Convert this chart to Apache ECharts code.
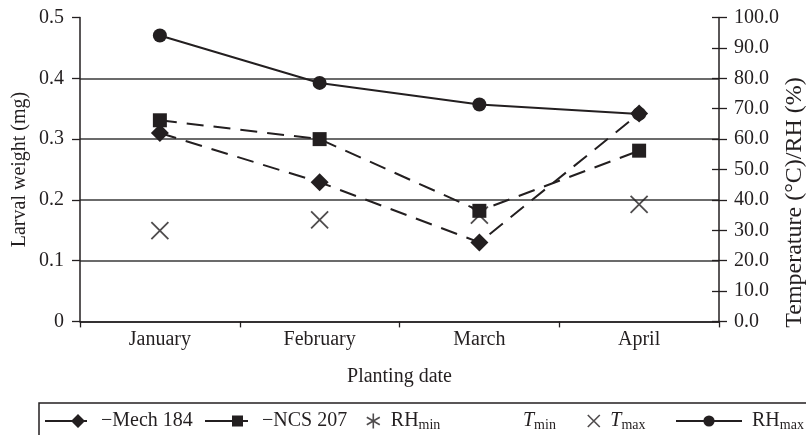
<!DOCTYPE html>
<html>
<head>
<meta charset="utf-8">
<script src="https://cdn.jsdelivr.net/npm/echarts@6/dist/echarts.min.js"></script>
<style>
html,body{margin:0;padding:0;background:#fff;}
#c{width:806px;height:435px;}
</style>
</head>
<body>
<div id="c"></div>
<script>
// ---- data ----
var categories = ['January', 'February', 'March', 'April'];
var mech184 = [0.31, 0.229, 0.13, 0.342];      // larval weight (mg)
var ncs207 = [0.331, 0.300, 0.182, 0.281];      // larval weight (mg)
var rhMax = [94.1, 78.5, 71.4, 68.3];           // %
var tMax = [29.9, 33.4, 35.0, 38.5];            // °C
var rhMin = [];                                  // not plotted
var tMin = [];                                   // not plotted
var leftTicks = [0, 0.1, 0.2, 0.3, 0.4, 0.5];
var rightTicks = [0, 10, 20, 30, 40, 50, 60, 70, 80, 90, 100];

var INK = '#231f20';
var FONT = 'Liberation Serif';
var FS = 20;

var chart = echarts.init(document.getElementById('c'));

var crossPath = 'path://M0,0L10,10M10,0L0,10';
var asteriskPath = 'path://M5,0L5,10M0.67,2.5L9.33,7.5M9.33,2.5L0.67,7.5';
var mechIcon = 'path://M0,6.1L27,6.1L33,0L39,6.1L42,6.1L42,7.9L39,7.9L33,14L27,7.9L0,7.9Z';
var ncsIcon = 'path://M0,6.1L27,6.1L27,1.5L38,1.5L38,6.1L43,6.1L43,7.9L38,7.9L38,12.5L27,12.5L27,7.9L0,7.9Z';

var rich = {
  n: {fontFamily: FONT, fontSize: FS, color: INK},
  i: {fontFamily: FONT, fontSize: FS, color: INK, fontStyle: 'italic'},
  s: {fontFamily: FONT, fontSize: 14, color: INK, verticalAlign: 'bottom', padding: [8, 0, 0, 0]}
};
var labelMap = {
  'Mech 184': '{n|\u2212Mech 184}',
  'NCS 207': '{n|\u2212NCS 207}',
  'RHmin': '{n|RH}{s|min}',
  'Tmin': '{i|T}{s|min}',
  'Tmax': '{i|T}{s|max}',
  'RHmax': '{n|RH}{s|max}'
};
function mkLegend(name, left, w, extra, padLeft) {
  var l = {
    data: [name],
    left: left,
    top: 411,
    orient: 'horizontal',
    itemWidth: w,
    itemHeight: 14,
    itemGap: 0,
    padding: 0,
    selectedMode: false,
    formatter: function (n) { return labelMap[n]; },
    textStyle: {fontFamily: FONT, fontSize: FS, color: INK, rich: rich, padding: [0, 0, 0, padLeft || 5]},
    lineStyle: {type: 'solid', width: 2, color: INK},
    itemStyle: {color: INK}
  };
  if (extra) Object.assign(l, extra);
  return l;
}

var option = {
  animation: false,
  backgroundColor: '#fff',
  grid: {left: 80, right: 87, top: 17.6, bottom: 113.6, containLabel: false, outerBoundsMode: 'none'},
  xAxis: {
    type: 'category',
    data: categories,
    boundaryGap: true,
    axisLine: {lineStyle: {color: INK, width: 1.5}},
    axisTick: {show: true, length: 6, lineStyle: {color: INK, width: 1.3}},
    axisLabel: {fontFamily: FONT, fontSize: FS, color: INK, margin: 8},
    name: 'Planting date',
    nameLocation: 'middle',
    nameGap: 45,
    nameMoveOverlap: false,
    nameTextStyle: {fontFamily: FONT, fontSize: FS, color: INK}
  },
  yAxis: [
    {
      type: 'value', min: 0, max: 0.5, interval: 0.1, position: 'left',
      axisLine: {show: true, lineStyle: {color: INK, width: 1.5}},
      axisTick: {show: true, length: 8, lineStyle: {color: INK, width: 1.3}},
      axisLabel: {fontFamily: FONT, fontSize: FS, color: INK, margin: 16,
        formatter: function (v) { return v === 0 ? '0' : v.toFixed(1); }},
      splitLine: {show: true, showMaxLine: false, lineStyle: {color: '#3a3a3a', width: 1.5}},
      name: 'Larval weight (mg)',
      nameLocation: 'middle',
      nameGap: 50,
      nameMoveOverlap: false,
      nameRotate: 90,
      nameTextStyle: {fontFamily: FONT, fontSize: FS, color: INK}
    },
    {
      type: 'value', min: 0, max: 100, interval: 10, position: 'right',
      axisLine: {show: true, lineStyle: {color: INK, width: 1.5}},
      axisTick: {show: true, length: 8, lineStyle: {color: INK, width: 1.3}},
      axisLabel: {fontFamily: FONT, fontSize: FS, color: INK, margin: 15,
        formatter: function (v) { return v.toFixed(1); }},
      splitLine: {show: false},
      name: 'Temperature (\u00b0C)/RH (%)',
      nameLocation: 'middle',
      nameGap: 64,
      nameMoveOverlap: false,
      nameRotate: 90,
      nameTextStyle: {fontFamily: FONT, fontSize: 24, color: INK, padding: [0, 66, 0, 0]}
    },
    {
      type: 'value', min: 0, max: 100, interval: 10, position: 'right', offset: 0,
      axisLine: {show: false},
      axisTick: {show: true, inside: true, length: 7, lineStyle: {color: INK, width: 1.3}},
      axisLabel: {show: false},
      splitLine: {show: false}
    }
  ],
  legend: [
    mkLegend('Mech 184', 45, 42, {icon: mechIcon}, 9),
    mkLegend('NCS 207', 205, 43, {icon: ncsIcon}, 9),
    mkLegend('RHmin', 366, 15, {itemHeight: 15, itemStyle: {color: 'transparent', borderColor: INK, borderWidth: 1.6}}),
    mkLegend('Tmin', 500, 12, {itemStyle: {opacity: 0}, lineStyle: {opacity: 0}}),
    mkLegend('Tmax', 587, 13, {itemHeight: 12, itemStyle: {color: 'transparent', borderColor: INK, borderWidth: 1.6}}),
    mkLegend('RHmax', 675, 66)
  ],
  graphic: [{
    type: 'rect',
    shape: {x: 39, y: 403, width: 800, height: 40},
    style: {fill: 'transparent', stroke: INK, lineWidth: 1.5},
    silent: true, z: 0
  }],
  series: [
    {
      name: 'Mech 184', type: 'line', yAxisIndex: 0, data: mech184,
      symbol: 'diamond', symbolSize: 18,
      lineStyle: {color: INK, width: 2, type: [17, 10]},
      itemStyle: {color: INK}
    },
    {
      name: 'NCS 207', type: 'line', yAxisIndex: 0, data: ncs207,
      symbol: 'rect', symbolSize: 14,
      lineStyle: {color: INK, width: 2, type: [17, 10]},
      itemStyle: {color: INK}
    },
    {
      name: 'RHmin', type: 'scatter', yAxisIndex: 1, data: rhMin,
      symbol: asteriskPath, symbolSize: 15,
      itemStyle: {color: 'transparent', borderColor: INK, borderWidth: 1.6}
    },
    {
      name: 'Tmin', type: 'line', yAxisIndex: 1, data: tMin,
      symbol: 'none', lineStyle: {opacity: 0}, itemStyle: {color: INK}
    },
    {
      name: 'Tmax', type: 'scatter', yAxisIndex: 1, data: tMax,
      symbol: crossPath, symbolSize: 17,
      itemStyle: {color: 'transparent', borderColor: INK, borderWidth: 1.8}
    },
    {
      name: 'RHmax', type: 'line', yAxisIndex: 1, data: rhMax,
      symbol: 'circle', symbolSize: 14,
      lineStyle: {color: INK, width: 2},
      itemStyle: {color: INK}
    }
  ]
};
chart.setOption(option);
</script>
</body>
</html>
